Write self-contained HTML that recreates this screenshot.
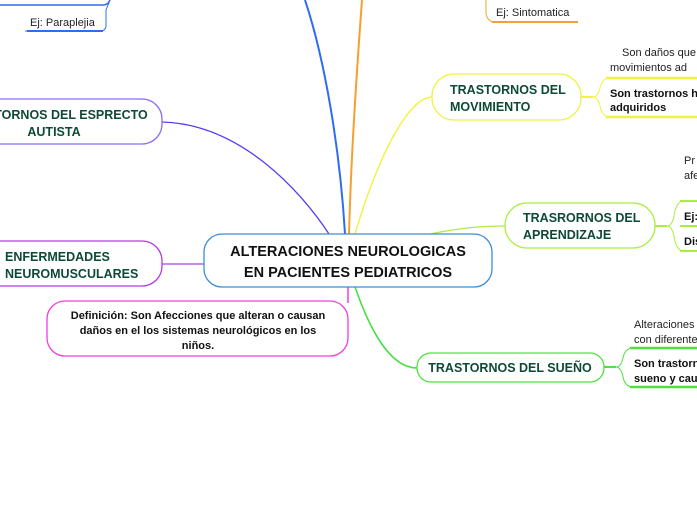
<!DOCTYPE html>
<html><head><meta charset="utf-8"><style>
html,body{margin:0;padding:0;background:#fff;width:697px;height:520px;overflow:hidden}
svg{display:block;font-family:"Liberation Sans","DejaVu Sans",sans-serif}
.t{font-size:12.5px;font-weight:bold;fill:#0d4a36}
.n{font-size:11px;fill:#222}
.b{font-size:11px;font-weight:bold;fill:#111}
</style></head><body>
<svg width="697" height="520" viewBox="0 0 697 520" xmlns="http://www.w3.org/2000/svg">
<!-- connectors -->
<path d="M305,0 C325,60 340,150 345,234" stroke="#2f6cf5" stroke-width="2" fill="none"/>
<path d="M362,0 C356,80 351,160 349,234" stroke="#f5a030" stroke-width="2" fill="none"/>
<path d="M355,234 C380,150 410,97 432,97" stroke="#f2f230" stroke-width="1.3" fill="none"/>
<path d="M162,122 C240,124 300,190 329,234" stroke="#5a3cf0" stroke-width="1.3" fill="none"/>
<path d="M430,234 C460,228 480,226 505,226" stroke="#a8ef40" stroke-width="1.3" fill="none"/>
<path d="M355,287 C370,330 390,368 417,368" stroke="#40e040" stroke-width="1.5" fill="none"/>
<path d="M348,287 L348,303" stroke="#f040e0" stroke-width="1.5" fill="none"/>
<path d="M162,264 L204,264" stroke="#b040e0" stroke-width="1.3" fill="none"/>
<!-- top-left remnants -->
<path d="M0,5 L103,5 Q108,5 110,0" stroke="#2f6cf5" stroke-width="1.5" fill="none"/>
<path d="M110,0 Q108,5 106,10 L106,25 Q106,31 100,31 L25,31" stroke="#2f6cf5" stroke-width="1" fill="none"/>
<path d="M27,31 L103,31" stroke="#2f6cf5" stroke-width="2" fill="none"/>
<text x="30" y="26" class="n">Ej:  Paraplejia</text>
<!-- top orange remnant -->
<path d="M486,0 L486,14 Q488,22 495,22 L578,22" stroke="#f5a030" stroke-width="1" fill="none"/>
<path d="M492,22 L578,22" stroke="#f5a030" stroke-width="2" fill="none"/>
<text x="496" y="16" class="n">Ej:  Sintomatica</text>
<!-- central -->
<rect x="204" y="234" width="288" height="53" rx="18" fill="#fff" stroke="#3a8fd8" stroke-width="1.3"/>
<text x="348" y="256" text-anchor="middle" style="font-size:14.5px;font-weight:bold;fill:#111">ALTERACIONES NEUROLOGICAS</text>
<text x="348" y="277" text-anchor="middle" style="font-size:14.5px;font-weight:bold;fill:#111">EN PACIENTES PEDIATRICOS</text>
<!-- espectro -->
<rect x="-60" y="99" width="222" height="45" rx="20" fill="#fff" stroke="#8a6cf0" stroke-width="1.3"/>
<text x="54" y="119" text-anchor="middle" class="t">TRASTORNOS DEL ESPRECTO</text>
<text x="54" y="136" text-anchor="middle" class="t">AUTISTA</text>
<!-- enfermedades -->
<rect x="-30" y="241" width="192" height="45" rx="20" fill="#fff" stroke="#b23ce0" stroke-width="1.3"/>
<text x="5" y="261" class="t">ENFERMEDADES</text>
<text x="5" y="278" class="t">NEUROMUSCULARES</text>
<!-- definicion -->
<rect x="47" y="301" width="301" height="55" rx="18" fill="#fff" stroke="#f03ce6" stroke-width="1.3"/>
<text x="198" y="319" text-anchor="middle" class="b">Definición: Son Afecciones que alteran o causan</text>
<text x="198" y="334" text-anchor="middle" class="b">daños en el los sistemas neurológicos en los</text>
<text x="198" y="349" text-anchor="middle" class="b">niños.</text>
<!-- movimiento -->
<rect x="432" y="74" width="149" height="46" rx="22" fill="#fff" stroke="#f2f240" stroke-width="1.3"/>
<text x="450" y="94" class="t">TRASTORNOS DEL</text>
<text x="450" y="111" class="t">MOVIMIENTO</text>
<path d="M581,97 L593,97" stroke="#f2f240" stroke-width="2"/>
<path d="M593,97 Q598,97 600,88 Q602,78 610,78 L697,78 M593,97 Q598,97 600,106 Q602,117 610,117 L697,117" stroke="#f2f240" stroke-width="1" fill="none"/>
<path d="M606,78 L697,78 M606,117 L697,117" stroke="#f2f240" stroke-width="2.5" fill="none"/>
<text x="622" y="56" class="n">Son daños que</text>
<text x="610" y="71" class="n">movimientos  ad</text>
<text x="610" y="97" class="b">Son trastornos h</text>
<text x="610" y="111" class="b">adquiridos</text>
<!-- aprendizaje -->
<rect x="505" y="203" width="150" height="45" rx="22" fill="#fff" stroke="#a8ef40" stroke-width="1.3"/>
<text x="523" y="222" class="t">TRASRORNOS DEL</text>
<text x="523" y="239" class="t">APRENDIZAJE</text>
<path d="M655,226 L667,226" stroke="#a8ef40" stroke-width="2"/>
<path d="M667,226 Q672,226 674,216 Q676,201 684,201 L697,201 M667,226 Q672,226 674,236 Q676,251 684,251 L697,251" stroke="#a8ef40" stroke-width="1" fill="none"/>
<path d="M680,201 L697,201 M680,226 L697,226 M680,251 L697,251" stroke="#a8ef40" stroke-width="2" fill="none"/>
<text x="684" y="164" class="n">Pr</text>
<text x="684" y="179" class="n">afe</text>
<text x="684" y="220" class="b">Ej:</text>
<text x="684" y="245" class="b">Dis</text>
<!-- sueño -->
<rect x="417" y="353" width="187" height="29" rx="14" fill="#fff" stroke="#50e040" stroke-width="1.3"/>
<text x="510" y="372" text-anchor="middle" class="t">TRASTORNOS DEL SUEÑO</text>
<path d="M604,367 L616,367" stroke="#50e040" stroke-width="2"/>
<path d="M616,367 Q621,367 623,358 Q625,348 633,348 L697,348 M616,367 Q621,367 623,377 Q625,387 633,387 L697,387" stroke="#50e040" stroke-width="1" fill="none"/>
<path d="M630,348 L697,348 M630,387 L697,387" stroke="#50e040" stroke-width="2.5" fill="none"/>
<text x="634" y="328" class="n">Alteraciones</text>
<text x="634" y="343" class="n">con diferente</text>
<text x="634" y="367" class="b">Son trastorn</text>
<text x="634" y="382" class="b">sueno y cau</text>
</svg>
</body></html>
